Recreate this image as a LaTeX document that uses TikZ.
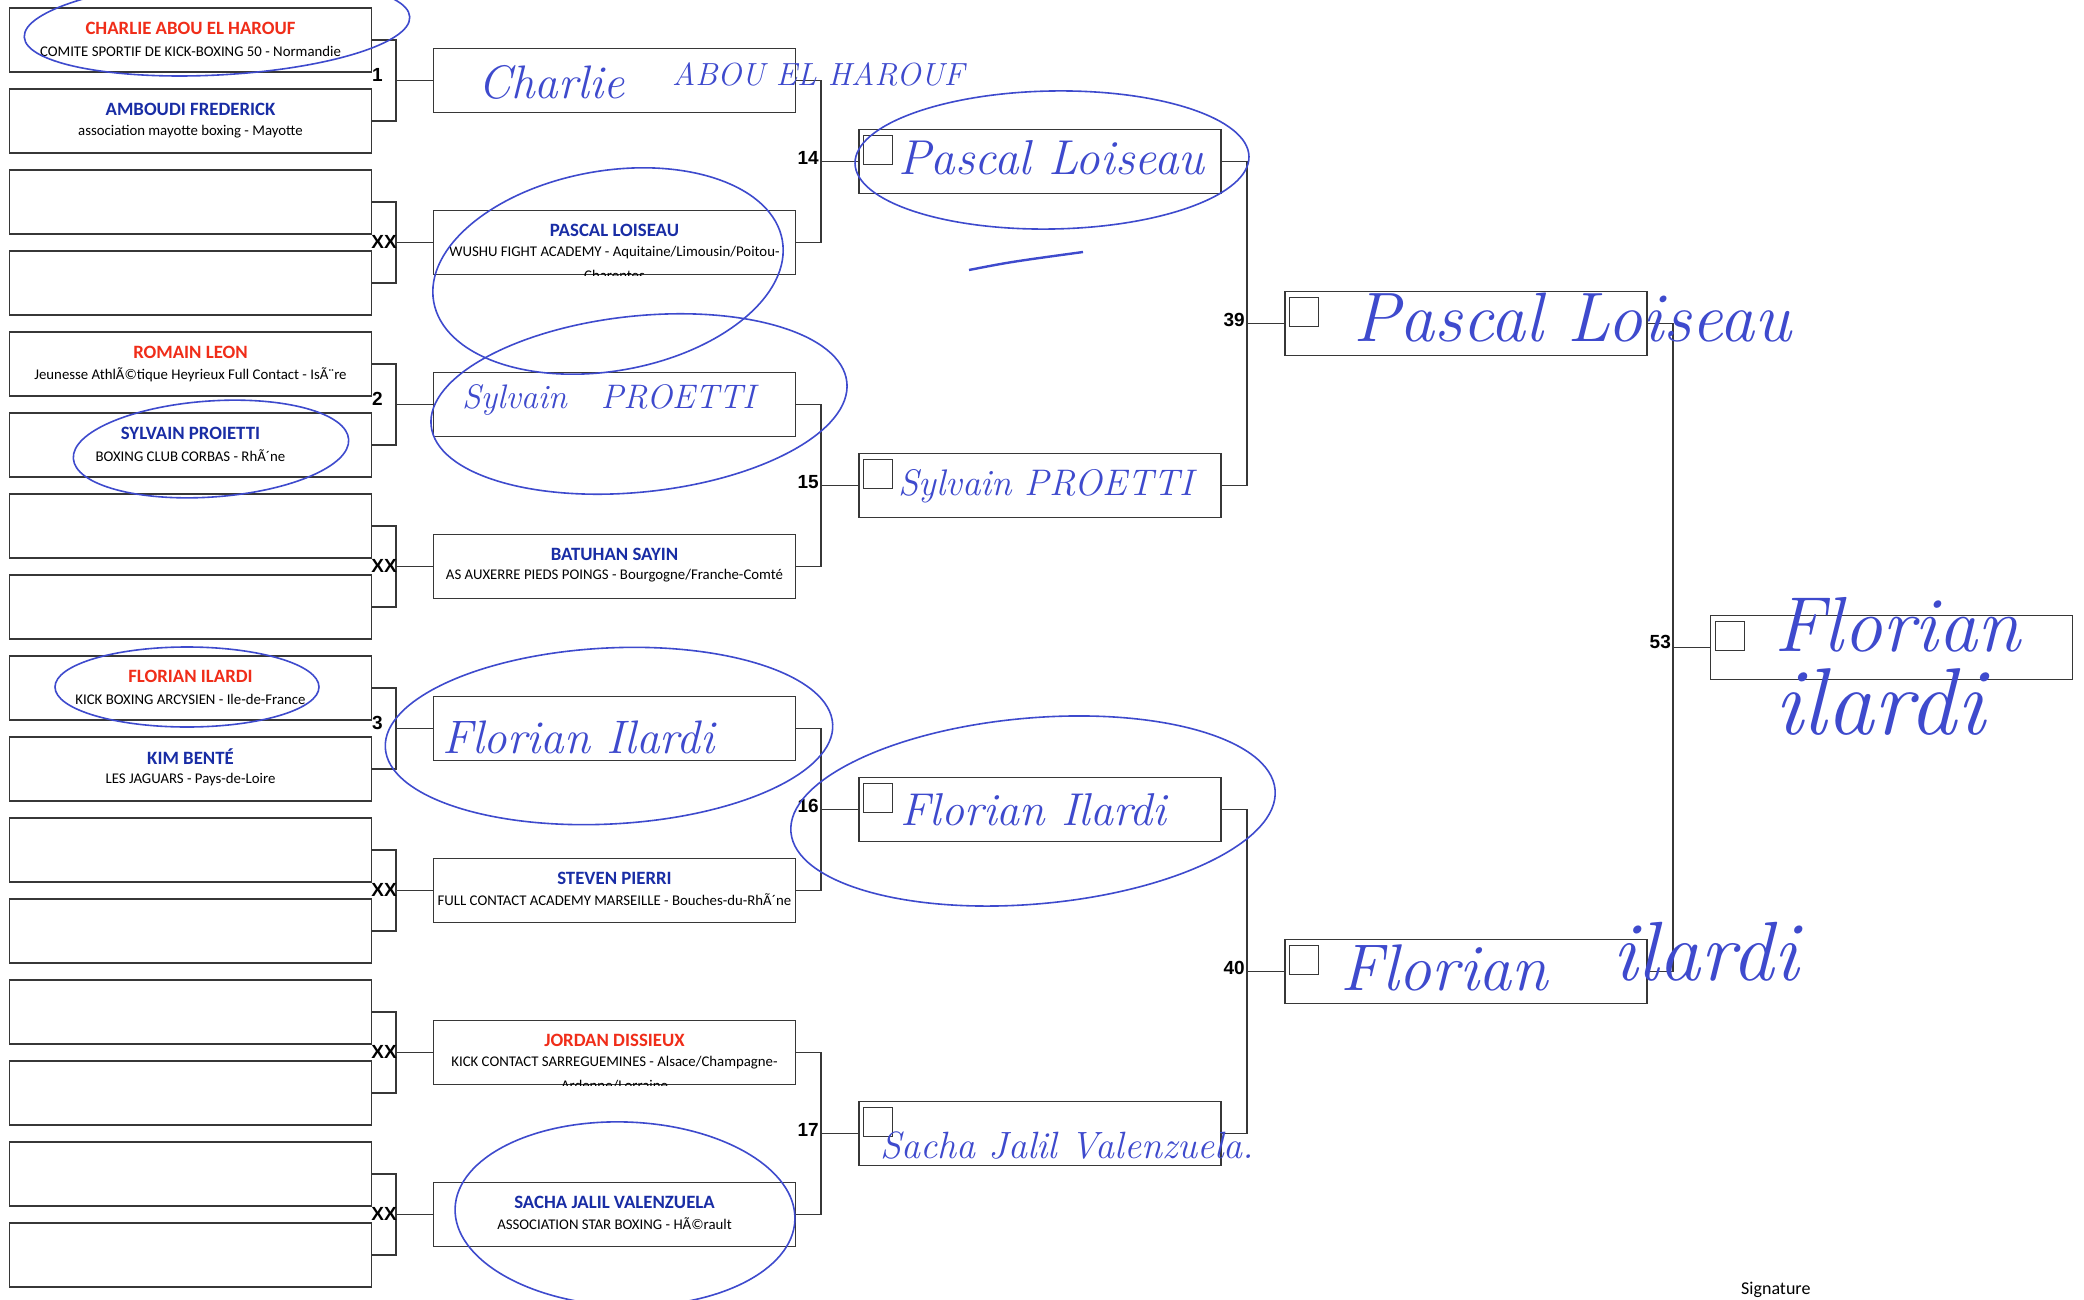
\documentclass[tikz,border=0pt]{standalone}
\usepackage{fontspec}
\usepackage{xcolor}
\usetikzlibrary{positioning}
\newfontfamily\cardfont{Carlito}
\newfontfamily\seedfont{Liberation Sans}
\definecolor{cornerred}{RGB}{240,45,25}
\definecolor{cornerblue}{RGB}{25,45,165}
\definecolor{ink}{RGB}{62,74,205}
\definecolor{frame}{RGB}{55,55,55}

\begin{document}
\begin{tikzpicture}[x=1pt,y=-1pt,
  slot/.style={draw=frame,line width=1.3pt,minimum width=362pt,minimum height=64pt,inner sep=0pt},
  tick/.style={draw=frame,line width=1.1pt,minimum size=29pt,inner sep=0pt},
  wire/.style={draw=frame,line width=1.3pt},
  fname/.style={font=\cardfont\bfseries\fontsize{18.8}{20}\selectfont,inner sep=0pt},
  club/.style={font=\cardfont\fontsize{14.8}{16}\selectfont,inner sep=0pt},
  seed/.style={font=\seedfont\bfseries\fontsize{19}{20}\selectfont,inner sep=0pt,anchor=base east},
  hand/.style={font={\itshape\fontsize{#1}{#1}\selectfont},text=ink,inner sep=0pt,anchor=west},
  ring/.style={draw=ink,line width=1.6pt}]
\fill[white] (0,0) rectangle (2084,1300);
\useasboundingbox (0,0) rectangle (2084,1300);

% first round
\node[slot] (a1) at (190.5,40) {};
\node[slot] (a2) at (190.5,121) {};
\node[slot] (a3) at (190.5,202) {};
\node[slot] (a4) at (190.5,283) {};
\node[slot] (a5) at (190.5,364) {};
\node[slot] (a6) at (190.5,445) {};
\node[slot] (a7) at (190.5,526) {};
\node[slot] (a8) at (190.5,607) {};
\node[slot] (a9) at (190.5,688) {};
\node[slot] (a10) at (190.5,769) {};
\node[slot] (a11) at (190.5,850) {};
\node[slot] (a12) at (190.5,931) {};
\node[slot] (a13) at (190.5,1012) {};
\node[slot] (a14) at (190.5,1093) {};
\node[slot] (a15) at (190.5,1174) {};
\node[slot] (a16) at (190.5,1255) {};

\node[fname,text=cornerred] (a1n) at ([yshift=12pt]a1.center) {CHARLIE ABOU EL HAROUF};
\node[club] (a1c) at ([yshift=-11pt]a1.center) {COMITE SPORTIF DE KICK-BOXING 50 - Normandie};
\node[fname,text=cornerblue] (a2n) at ([yshift=12pt]a2.center) {AMBOUDI FREDERICK};
\node[club] (a2c) at ([yshift=-11pt]a2.center) {association mayotte boxing - Mayotte};
\node[fname,text=cornerred] (a5n) at ([yshift=12pt]a5.center) {ROMAIN LEON};
\node[club] (a5c) at ([yshift=-11pt]a5.center) {Jeunesse AthlÃ©tique Heyrieux Full Contact - IsÃ¨re};
\node[fname,text=cornerblue] (a6n) at ([yshift=12pt]a6.center) {SYLVAIN PROIETTI};
\node[club] (a6c) at ([yshift=-11pt]a6.center) {BOXING CLUB CORBAS - RhÃ´ne};
\node[fname,text=cornerred] (a9n) at ([yshift=12pt]a9.center) {FLORIAN ILARDI};
\node[club] (a9c) at ([yshift=-11pt]a9.center) {KICK BOXING ARCYSIEN - Ile-de-France};
\node[fname,text=cornerblue] (a10n) at ([yshift=12pt]a10.center) {KIM BENTÉ};
\node[club] (a10c) at ([yshift=-11pt]a10.center) {LES JAGUARS - Pays-de-Loire};

% second round
\node[slot] (b1) at (614.5,80.5) {};
\node[slot] (b2) at (614.5,242.5) {};
\node[slot] (b3) at (614.5,404.5) {};
\node[slot] (b4) at (614.5,566.5) {};
\node[slot] (b5) at (614.5,728.5) {};
\node[slot] (b6) at (614.5,890.5) {};
\node[slot] (b7) at (614.5,1052.5) {};
\node[slot] (b8) at (614.5,1214.5) {};

\node[fname,text=cornerblue] (b2n) at ([yshift=12pt]b2.center) {PASCAL LOISEAU};
\node[club] (b2c) at ([yshift=-10pt]b2.center) {WUSHU FIGHT ACADEMY - Aquitaine/Limousin/Poitou-};
\begin{scope}
\clip (b2.south west) rectangle (b2.north east);
\node[club] (b2d) at ([yshift=-33pt]b2.center) {Charentes};
\end{scope}
\node[fname,text=cornerblue] (b4n) at ([yshift=12pt]b4.center) {BATUHAN SAYIN};
\node[club] (b4c) at ([yshift=-9pt]b4.center) {AS AUXERRE PIEDS POINGS - Bourgogne/Franche-Comté};
\node[fname,text=cornerblue] (b6n) at ([yshift=12pt]b6.center) {STEVEN PIERRI};
\node[club] (b6c) at ([yshift=-9pt]b6.center) {FULL CONTACT ACADEMY MARSEILLE - Bouches-du-RhÃ´ne};
\node[fname,text=cornerred] (b7n) at ([yshift=12pt]b7.center) {JORDAN DISSIEUX};
\node[club] (b7c) at ([yshift=-10pt]b7.center) {KICK CONTACT SARREGUEMINES - Alsace/Champagne-};
\begin{scope}
\clip (b7.south west) rectangle (b7.north east);
\node[club] (b7d) at ([yshift=-33pt]b7.center) {Ardenne/Lorraine};
\end{scope}
\node[fname,text=cornerblue] (b8n) at ([yshift=12pt]b8.center) {SACHA JALIL VALENZUELA};
\node[club] (b8c) at ([yshift=-9pt]b8.center) {ASSOCIATION STAR BOXING - HÃ©rault};

% later rounds
\node[slot] (c1) at (1040,161.5) {};
\node[slot] (c2) at (1040,485.5) {};
\node[slot] (c3) at (1040,809.5) {};
\node[slot] (c4) at (1040,1133.5) {};
\node[slot] (d1) at (1466,323.5) {};
\node[slot] (d2) at (1466,971.5) {};
\node[slot] (e1) at (1891.5,647.5) {};

\node[tick,below right=6pt and 5pt of c1.north west] (c1t) {};
\node[tick,below right=6pt and 5pt of c2.north west] (c2t) {};
\node[tick,below right=6pt and 5pt of c3.north west] (c3t) {};
\node[tick,below right=6pt and 5pt of c4.north west] (c4t) {};
\node[tick,below right=6pt and 5pt of d1.north west] (d1t) {};
\node[tick,below right=6pt and 5pt of d2.north west] (d2t) {};
\node[tick,below right=6pt and 5pt of e1.north west] (e1t) {};

% brackets
\coordinate (j1) at (396,80.5);
\coordinate (j2) at (396,242.5);
\coordinate (j3) at (396,404.5);
\coordinate (j4) at (396,566.5);
\coordinate (j5) at (396,728.5);
\coordinate (j6) at (396,890.5);
\coordinate (j7) at (396,1052.5);
\coordinate (j8) at (396,1214.5);
\draw[wire] (a1.east) -| (j1) |- (a2.east) (j1) -- (b1.west);
\draw[wire] (a3.east) -| (j2) |- (a4.east) (j2) -- (b2.west);
\draw[wire] (a5.east) -| (j3) |- (a6.east) (j3) -- (b3.west);
\draw[wire] (a7.east) -| (j4) |- (a8.east) (j4) -- (b4.west);
\draw[wire] (a9.east) -| (j5) |- (a10.east) (j5) -- (b5.west);
\draw[wire] (a11.east) -| (j6) |- (a12.east) (j6) -- (b6.west);
\draw[wire] (a13.east) -| (j7) |- (a14.east) (j7) -- (b7.west);
\draw[wire] (a15.east) -| (j8) |- (a16.east) (j8) -- (b8.west);

\coordinate (k1) at (821,161.5);
\coordinate (k2) at (821,485.5);
\coordinate (k3) at (821,809.5);
\coordinate (k4) at (821,1133.5);
\draw[wire] (b1.east) -| (k1) |- (b2.east) (k1) -- (c1.west);
\draw[wire] (b3.east) -| (k2) |- (b4.east) (k2) -- (c2.west);
\draw[wire] (b5.east) -| (k3) |- (b6.east) (k3) -- (c3.west);
\draw[wire] (b7.east) -| (k4) |- (b8.east) (k4) -- (c4.west);

\coordinate (l1) at (1247,323.5);
\coordinate (l2) at (1247,971.5);
\draw[wire] (c1.east) -| (l1) |- (c2.east) (l1) -- (d1.west);
\draw[wire] (c3.east) -| (l2) |- (c4.east) (l2) -- (d2.west);

\coordinate (m1) at (1673,647.5);
\draw[wire] (d1.east) -| (m1) |- (d2.east) (m1) -- (e1.west);

% fight numbers
\node[seed] (s1) at (383,81.5) {1};
\node[seed] (s2) at (397,248.5) {XX};
\node[seed] (s3) at (383,405.5) {2};
\node[seed] (s4) at (397,572.5) {XX};
\node[seed] (s5) at (383,729.5) {3};
\node[seed] (s6) at (397,896.5) {XX};
\node[seed] (s7) at (397,1058.5) {XX};
\node[seed] (s8) at (397,1220.5) {XX};
\node[seed] (s14) at (819,164.5) {14};
\node[seed] (s15) at (819,488.5) {15};
\node[seed] (s16) at (819,812.5) {16};
\node[seed] (s17) at (819,1136.5) {17};
\node[seed] (s39) at (1245,326) {39};
\node[seed] (s40) at (1245,974) {40};
\node[seed] (s53) at (1671,648) {53};

\node[club,font=\cardfont\fontsize{18}{20}\selectfont,anchor=south west] (sig) at (1741,1298) {Signature};

% handwriting
\node[hand=47] (h1a) at (478,82) {Charlie};
\node[hand=32] (h1b) at (672,74) {ABOU EL HAROUF};
\node[hand=49] (h2) at (898,158) {Pascal Loiseau};
\node[hand=34] (h3) at (462,400) {Sylvain\quad PROETTI};
\node[hand=37] (h4) at (898,486) {Sylvain PROETTI};
\node[hand=70] (h5) at (1353,318) {Pascal Loiseau};
\node[hand=47] (h6) at (442,737) {Florian Ilardi};
\node[hand=46] (h7) at (900,810) {Florian Ilardi};
\node[hand=66] (h8a) at (1340,968) {Florian};
\node[hand=84] (h8b) at (1612,952) {ilardi};
\node[hand=38] (h9) at (880,1146) {Sacha Jalil Valenzuela.};
\node[hand=78] (h10a) at (1774,625) {Florian};
\node[hand=95] (h10b) at (1774,702) {ilardi};

\draw[ring,rotate around={3:(217,27)}] (217,27) ellipse [x radius=193pt,y radius=48pt];
\draw[ring,rotate around={10:(608,271)}] (608,271) ellipse [x radius=177pt,y radius=100pt];
\draw[ring,rotate around={6:(639,404)}] (639,404) ellipse [x radius=209pt,y radius=88pt];
\draw[ring,rotate around={4:(211,449)}] (211,449) ellipse [x radius=138pt,y radius=48pt];
\draw[ring,rotate around={1:(1052,160)}] (1052,160) ellipse [x radius=197pt,y radius=69pt];
\draw[ring] (187,687) ellipse [x radius=132pt,y radius=40pt];
\draw[ring,rotate around={3:(609,736)}] (609,736) ellipse [x radius=224pt,y radius=88pt];
\draw[ring,rotate around={5:(1033,811)}] (1033,811) ellipse [x radius=243pt,y radius=93pt];
\draw[ring,rotate around={-2:(625,1214)}] (625,1214) ellipse [x radius=170pt,y radius=92pt];
\draw[ring,line width=2.4pt] (969,270) .. controls (1010,262) .. (1083,252);
\end{tikzpicture}
\end{document}
